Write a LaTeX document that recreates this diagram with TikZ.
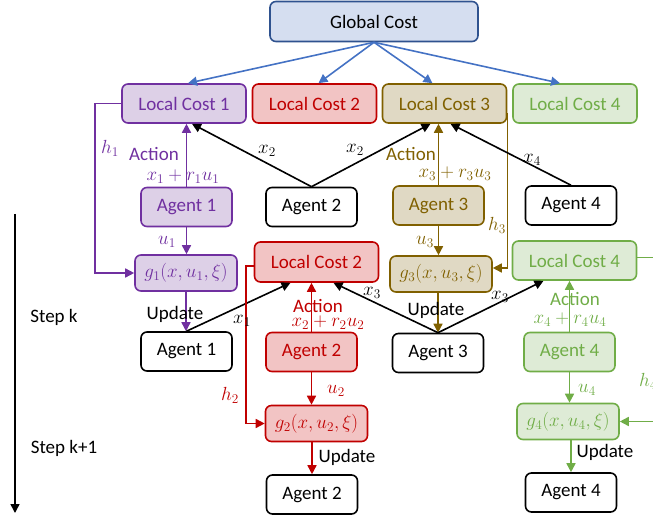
\documentclass[tikz,border=0pt]{standalone}
\usepackage{fix-cm}
\usepackage{fontspec}
\setmainfont{Carlito}
\usetikzlibrary{arrows.meta}

\definecolor{gblue}{HTML}{2F528F}
\definecolor{gbluefill}{HTML}{D5DEF0}
\definecolor{garrow}{HTML}{4472C4}
\definecolor{apurple}{HTML}{7030A0}
\definecolor{apurplefill}{HTML}{DDD0E7}
\definecolor{ared}{HTML}{C00000}
\definecolor{aredfill}{HTML}{F2C4C4}
\definecolor{agold}{HTML}{806000}
\definecolor{agoldfill}{HTML}{E0D9C4}
\definecolor{agreen}{HTML}{70AD47}
\definecolor{agreenfill}{HTML}{DEEBD6}

\begin{document}
\begin{tikzpicture}[x = 1pt, y = -1pt, > = {Triangle[length = 9pt, width = 9pt]},
	font = \fontsize{19}{23}\selectfont,
	box/.style = {draw, rounded corners = 6pt, line width = 1.6pt, minimum height = 39pt, inner sep = 1pt},
	cost/.style = {box, minimum width = 124pt},
	agent/.style = {box, minimum width = 91pt},
	gfun/.style = {box, minimum width = 102pt, minimum height = 36pt},
	whitebox/.style = {draw = black, fill = white, text = black},
	purplebox/.style = {draw = apurple, fill = apurplefill, text = apurple},
	redbox/.style = {draw = ared, fill = aredfill, text = ared},
	goldbox/.style = {draw = agold, fill = agoldfill, text = agold},
	greenbox/.style = {draw = agreen, fill = agreenfill, text = agreen},
	link/.style = {->, line width = 1.6pt}]

\useasboundingbox (0, 0) rectangle (653, 518);
\clip (0, 0) rectangle (653, 518);

	% Global and local costs

	\node [box, draw = gblue, fill = gbluefill, minimum width = 208pt, minimum height = 40pt] (gc) at (374, 21.5) {Global Cost};

	\node [cost, purplebox] (lc1) at (184, 103.5) {Local Cost 1};
	\node [cost, redbox] (lc2) at (314.5, 103.5) {Local Cost 2};
	\node [cost, goldbox] (lc3) at (444.5, 103.5) {Local Cost 3};
	\node [cost, greenbox] (lc4) at (575, 103.5) {Local Cost 4};

	\draw [link, garrow] (gc.south) -- ([xshift = 4pt] lc1.north);
	\draw [link, garrow] (gc.south) -- ([xshift = 4pt] lc2.north);
	\draw [link, garrow] (gc.south) -- ([xshift = -12pt] lc3.north);
	\draw [link, garrow] (gc.south) -- ([xshift = -15pt] lc4.north);

	% Agents 1 and 3 act

	\node [agent, purplebox] (a1) at (186.5, 207) {Agent 1};
	\node [agent, whitebox] (a2) at (311.5, 207) {Agent 2};
	\node [agent, goldbox] (a3) at (438.5, 205.5) {Agent 3};
	\node [agent, whitebox] (a4) at (571, 205.5) {Agent 4};

	\node [gfun, purplebox] (g1) at (186, 273) {$g_1(x, u_1, \xi)$};
	\node [gfun, goldbox] (g3) at (441, 274) {$g_3(x, u_3, \xi)$};

	\draw [link, apurple] (a1.north) -- (a1.north |- lc1.south);
	\draw [link, apurple] (a1.south) -- (a1.south |- g1.north);
	\draw [link, apurple] (lc1.west) -- ++(-26, 0) |- (g1.west);

	\draw [link, agold] (a3.north) -- (a3.north |- lc3.south);
	\draw [link, agold] (a3.south) -- (a3.south |- g3.north);
	\draw [link, agold] ([yshift = -10pt] lc3.east) |- ([yshift = 6pt] g3.east);

	\draw [link] (a2.north) -- ([xshift = 8pt] lc1.south);
	\draw [link] (a2.north) -- ([xshift = -14pt] lc3.south);
	\draw [link] (a4.north) -- ([xshift = 6pt] lc3.south);

	\node [text = apurple] at (110, 148) {$h_1$};
	\node [text = apurple] at (154, 154) {Action};
	\node [text = apurple] at (183, 177) {$x_1 + r_1 u_1$};
	\node [text = apurple] at (167, 242) {$u_1$};
	\node at (267, 151) {$x_2$};
	\node at (355, 150) {$x_2$};
	\node at (532, 160) {$x_4$};
	\node [text = agold] at (411, 154) {Action};
	\node [text = agold] at (455, 174) {$x_3 + r_3 u_3$};
	\node [text = agold] at (497, 225) {$h_3$};
	\node [text = agold] at (425, 242) {$u_3$};

	% Step k: agents 2 and 4 act

	\node [cost, redbox, minimum height = 40pt] (lc2b) at (316.5, 262) {Local Cost 2};
	\node [cost, greenbox] (lc4b) at (574.5, 260.5) {Local Cost 4};

	\node [agent, whitebox] (a1b) at (186.5, 351.5) {Agent 1};
	\node [agent, redbox] (a2r) at (311.5, 352) {Agent 2};
	\node [agent, whitebox] (a3b) at (438, 353) {Agent 3};
	\node [agent, greenbox] (a4g) at (569.5, 352) {Agent 4};

	\node [gfun, redbox] (g2) at (316.5, 423.5) {$g_2(x, u_2, \xi)$};
	\node [gfun, greenbox] (g4) at (568, 421.5) {$g_4(x, u_4, \xi)$};

	\draw [link, apurple] (g1.south) -- (g1.south |- a1b.north);
	\draw [link, agold] (a3b.north |- g3.south) -- (a3b.north);

	\draw [link] (a1b.north) -- ([xshift = -26pt] lc2b.south);
	\draw [link] (a3b.north) -- ([xshift = 17pt] lc2b.south);
	\draw [link] (a3b.north) -- ([xshift = -31pt] lc4b.south);

	\draw [link, ared] (a2r.north) -- (a2r.north |- lc2b.south);
	\draw [link, ared] (a2r.south) -- (a2r.south |- g2.north);
	\draw [link, ared] ([yshift = -4pt] lc2b.west) -- ++(-8, 0) |- (g2.west);

	\draw [link, agreen] (a4g.north) -- (a4g.north |- lc4b.south);
	\draw [link, agreen] (a4g.south) -- (a4g.south |- g4.north);
	\draw [link, agreen] ([yshift = 3pt] lc4b.east) -- ++(30, 0) |- (g4.east);

	\node at (175, 314) {Update};
	\node at (436, 310) {Update};
	\node at (242, 321) {$x_1$};
	\node at (372, 293) {$x_3$};
	\node at (500, 297) {$x_3$};
	\node [text = ared] at (318, 306) {Action};
	\node [text = ared] at (328, 323) {$x_2 + r_2 u_2$};
	\node [text = ared] at (336, 391) {$u_2$};
	\node [text = ared] at (230, 395) {$h_2$};
	\node [text = agreen] at (575, 299) {Action};
	\node [text = agreen] at (570, 320) {$x_4 + r_4 u_4$};
	\node [text = agreen] at (587, 390) {$u_4$};
	\node [text = agreen, anchor = west, inner sep = 0pt] at (639, 381) {$h_4$};

	% Step k+1

	\node [agent, whitebox] (a2b) at (312, 494.5) {Agent 2};
	\node [agent, whitebox] (a4b) at (571, 492.5) {Agent 4};

	\draw [link, ared] (a2b.north |- g2.south) -- (a2b.north);
	\draw [link, agreen] (a4b.north |- g4.south) -- (a4b.north);

	\node at (347, 457) {Update};
	\node at (605, 452) {Update};

	% Time axis

	\coordinate (tstart) at (15, 214);
	\coordinate (tend) at (15, 513);
	\draw [link] (tstart) -- (tend);

	\node at (54, 317) {Step k};
	\node at (64, 448) {Step k+1};

\end{tikzpicture}
\end{document}
